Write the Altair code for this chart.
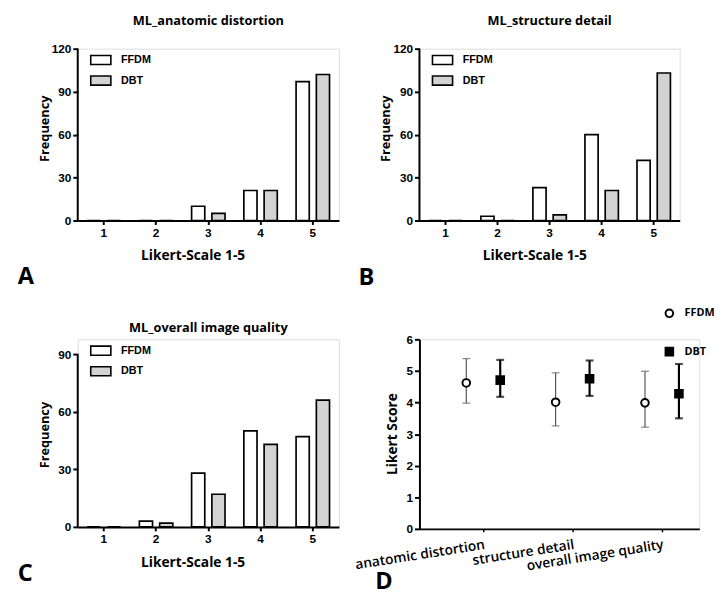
import json
import altair as alt
import pandas as pd

# ---------------- data ----------------
likert = ["1", "2", "3", "4", "5"]
series = ["FFDM", "DBT"]

a_ffdm = [0, 0, 10, 21, 97]
a_dbt = [0, 0, 5, 21, 102]

b_ffdm = [0, 3, 23, 60, 42]
b_dbt = [0, 0, 4, 21, 103]

c_ffdm = [0, 3, 28, 50, 47]
c_dbt = [0, 2, 17, 43, 66]

d_categories = ["anatomic distortion", "structure detail", "overall image quality"]
d_ffdm_mean = [4.62, 4.01, 3.99]
d_ffdm_low = [3.98, 3.26, 3.22]
d_ffdm_high = [5.39, 4.94, 4.99]
d_dbt_mean = [4.71, 4.75, 4.28]
d_dbt_low = [4.18, 4.21, 3.50]
d_dbt_high = [5.35, 5.33, 5.22]

# ---------------- styling ----------------
TICK_FONT = "Liberation Sans"
TEXT_FONT = "Open Sans"
FILLS = ["white", "#d3d3d3"]


def bar_df(ffdm, dbt):
    rows = []
    for s, vals in zip(series, [ffdm, dbt]):
        for k, v in zip(likert, vals):
            rows.append({"score": k, "series": s, "count": v})
    return pd.DataFrame(rows)


def letter_layer(letter, lx, ly):
    return alt.Chart(pd.DataFrame({"letter": [letter]})).mark_text(
        font=TEXT_FONT, fontSize=24, fontWeight="bold", align="left",
        baseline="alphabetic", color="black"
    ).encode(x=alt.value(lx), y=alt.value(ly), text="letter:N")


def bar_panel(title, ffdm, dbt, letter, width, height, ymax, yticks,
              title_offset, ytitle_y, lx, ly):
    df = bar_df(ffdm, dbt)
    y_scale = alt.Scale(domain=[0, ymax], nice=False, zero=True)
    y_axis = alt.Axis(
        title="Frequency", values=yticks, grid=False,
        domain=False, tickColor="black", tickWidth=2, tickSize=5,
        labelFont=TICK_FONT, labelFontSize=12, labelFontWeight="bold",
        labelColor="black", labelPadding=2,
        titleFont=TEXT_FONT, titleFontSize=13, titleFontWeight="bold",
        titleColor="black", titleAngle=270, titleX=-30, titleY=ytitle_y,
        titleAlign="center", titleBaseline="alphabetic",
    )
    bars = alt.Chart(df).mark_bar(stroke="black", strokeWidth=1.7).encode(
        x=alt.X(
            "score:N",
            scale=alt.Scale(domain=likert, paddingInner=0.36, paddingOuter=0.18),
            axis=alt.Axis(
                title="Likert-Scale 1-5", labelAngle=0, domainColor="black",
                domainWidth=2, tickColor="black", tickWidth=2, tickSize=4,
                labelFont=TICK_FONT, labelFontSize=12, labelFontWeight="bold",
                labelColor="black", labelPadding=3,
                titleFont=TEXT_FONT, titleFontSize=14, titleFontWeight="bold",
                titleColor="black", titleX=117, titleY=40,
                titleAlign="center", titleBaseline="alphabetic",
            ),
        ),
        xOffset=alt.XOffset(
            "series:N",
            scale=alt.Scale(domain=series, paddingInner=0.35, paddingOuter=0),
        ),
        y=alt.Y("count:Q", scale=y_scale, axis=y_axis, title="Frequency"),
        fill=alt.Fill(
            "series:N",
            scale=alt.Scale(domain=series, range=FILLS),
            legend=alt.Legend(
                title=None, orient="none", legendX=12, legendY=0,
                symbolType="M-1,-0.45H1V0.45H-1Z", symbolSize=420,
                symbolStrokeColor="black", symbolStrokeWidth=1.6,
                symbolOpacity=1, labelFont=TICK_FONT, labelFontSize=11,
                labelFontWeight="bold", labelColor="black", labelOffset=9,
                rowPadding=1, padding=0,
            ),
        ),
    )
    axis_line = alt.Chart(pd.DataFrame({"lo": [yticks[0]], "hi": [yticks[-1]]})).mark_rule(
        color="black", strokeWidth=2
    ).encode(x=alt.value(0), y=alt.Y("lo:Q", scale=y_scale, axis=y_axis, title="Frequency"),
             y2="hi:Q")
    return alt.layer(bars, axis_line, letter_layer(letter, lx, ly)).properties(
        width=width, height=height,
        title=alt.TitleParams(
            title, font=TEXT_FONT, fontSize=13, fontWeight="bold", color="black",
            anchor="middle", offset=title_offset, baseline="alphabetic",
        ),
    )


panel_a = bar_panel("ML_anatomic distortion", a_ffdm, a_dbt, "A", 266, 175,
                    120, [0, 30, 60, 90, 120], 5, 81, -61, 240)
panel_b = bar_panel("ML_structure detail", b_ffdm, b_dbt, "B", 265, 175,
                    120, [0, 30, 60, 90, 120], 5, 81, -62, 241)
panel_c = bar_panel("ML_overall image quality", c_ffdm, c_dbt, "C", 266, 191,
                    97.7, [0, 30, 60, 90], -6, 97, -61, 246)

# ---------------- panel D ----------------
d_rows = []
for i, cat in enumerate(d_categories):
    d_rows.append({"idx": i + 1, "category": cat, "series": "FFDM",
                   "mean": d_ffdm_mean[i], "lo": d_ffdm_low[i], "hi": d_ffdm_high[i]})
    d_rows.append({"idx": i + 1, "category": cat, "series": "DBT",
                   "mean": d_dbt_mean[i], "lo": d_dbt_low[i], "hi": d_dbt_high[i]})
dfd = pd.DataFrame(d_rows)

label_expr = json.dumps(d_categories) + "[datum.value - 1]"

x_d = alt.X(
    "pos:Q",
    scale=alt.Scale(domain=[0.286, 3.418], nice=False, zero=False),
    axis=alt.Axis(
        title=None, values=[1, 2, 3], labelExpr=label_expr, grid=False,
        labelAngle=351, labelAlign="right", labelBaseline="top",
        labelFont=TEXT_FONT, labelFontSize=14, labelFontWeight=600,
        labelColor="black", labelPadding=6, labelFlush=False, labelOverlap=False,
        domainColor="black", domainWidth=2, tickColor="black", tickWidth=1.5,
        tickSize=3,
    ),
)
y_axis_d = alt.Axis(
    title="Likert Score", values=[0, 1, 2, 3, 4, 5, 6], grid=False,
    domainColor="black", domainWidth=2, tickColor="black", tickWidth=2, tickSize=5,
    labelFont=TICK_FONT, labelFontSize=12, labelFontWeight="bold",
    labelColor="black", labelPadding=2,
    titleFont=TEXT_FONT, titleFontSize=14, titleFontWeight="bold",
    titleColor="black", titleAngle=270, titleX=-23, titleY=96,
    titleAlign="center", titleBaseline="alphabetic",
)
y_scale_d = alt.Scale(domain=[0, 6], nice=False)

base_d = alt.Chart(dfd).transform_calculate(
    pos="datum.idx + (datum.series == 'FFDM' ? -0.19 : 0.19)"
)

err_ffdm = base_d.transform_filter("datum.series == 'FFDM'").mark_errorbar(
    ticks={"size": 8}, thickness=1.2, color="#555555"
).encode(x=x_d, y=alt.Y("lo:Q", scale=y_scale_d, axis=y_axis_d, title="Likert Score"),
         y2="hi:Q")
err_dbt = base_d.transform_filter("datum.series == 'DBT'").mark_errorbar(
    ticks={"size": 8}, thickness=2.2, color="black"
).encode(x=x_d, y=alt.Y("lo:Q", scale=y_scale_d, axis=y_axis_d, title="Likert Score"),
         y2="hi:Q")

legend_d = alt.Legend(
    title=None, orient="none", legendX=249, legendY=-32,
    labelFont=TEXT_FONT, labelFontSize=11, labelFontWeight="bold",
    labelColor="black", labelOffset=10, rowPadding=22, padding=0,
    symbolStrokeColor="black", symbolStrokeWidth=2, symbolSize=60,
)
points = base_d.mark_point(strokeWidth=2, opacity=1, size=60).encode(
    x=x_d,
    y=alt.Y("mean:Q", scale=y_scale_d, axis=y_axis_d, title="Likert Score"),
    shape=alt.Shape("series:N", scale=alt.Scale(domain=series, range=["circle", "square"]),
                    legend=legend_d),
    fill=alt.Fill("series:N", scale=alt.Scale(domain=series, range=["white", "black"]),
                  legend=legend_d),
    stroke=alt.Stroke("series:N", scale=alt.Scale(domain=series, range=["black", "black"]),
                      legend=legend_d),
)

panel_d = alt.layer(err_ffdm, err_dbt, points, letter_layer("D", -45, 254)).properties(
    width=285, height=193
)

chart = alt.concat(panel_a, panel_b, panel_c, panel_d, columns=2).properties(
    spacing=alt.RowColnumber(row=121, column=82),
    bounds="flush",
    align="each",
    padding={"left": 9, "top": 1, "right": 0, "bottom": 0},
).resolve_scale(
    fill="independent", shape="independent", stroke="independent"
).resolve_legend(
    fill="independent", shape="independent", stroke="independent"
).configure_view(stroke=None).configure(background="white")

chart.save("out.html", embed_options={"renderer": "svg", "actions": False})
